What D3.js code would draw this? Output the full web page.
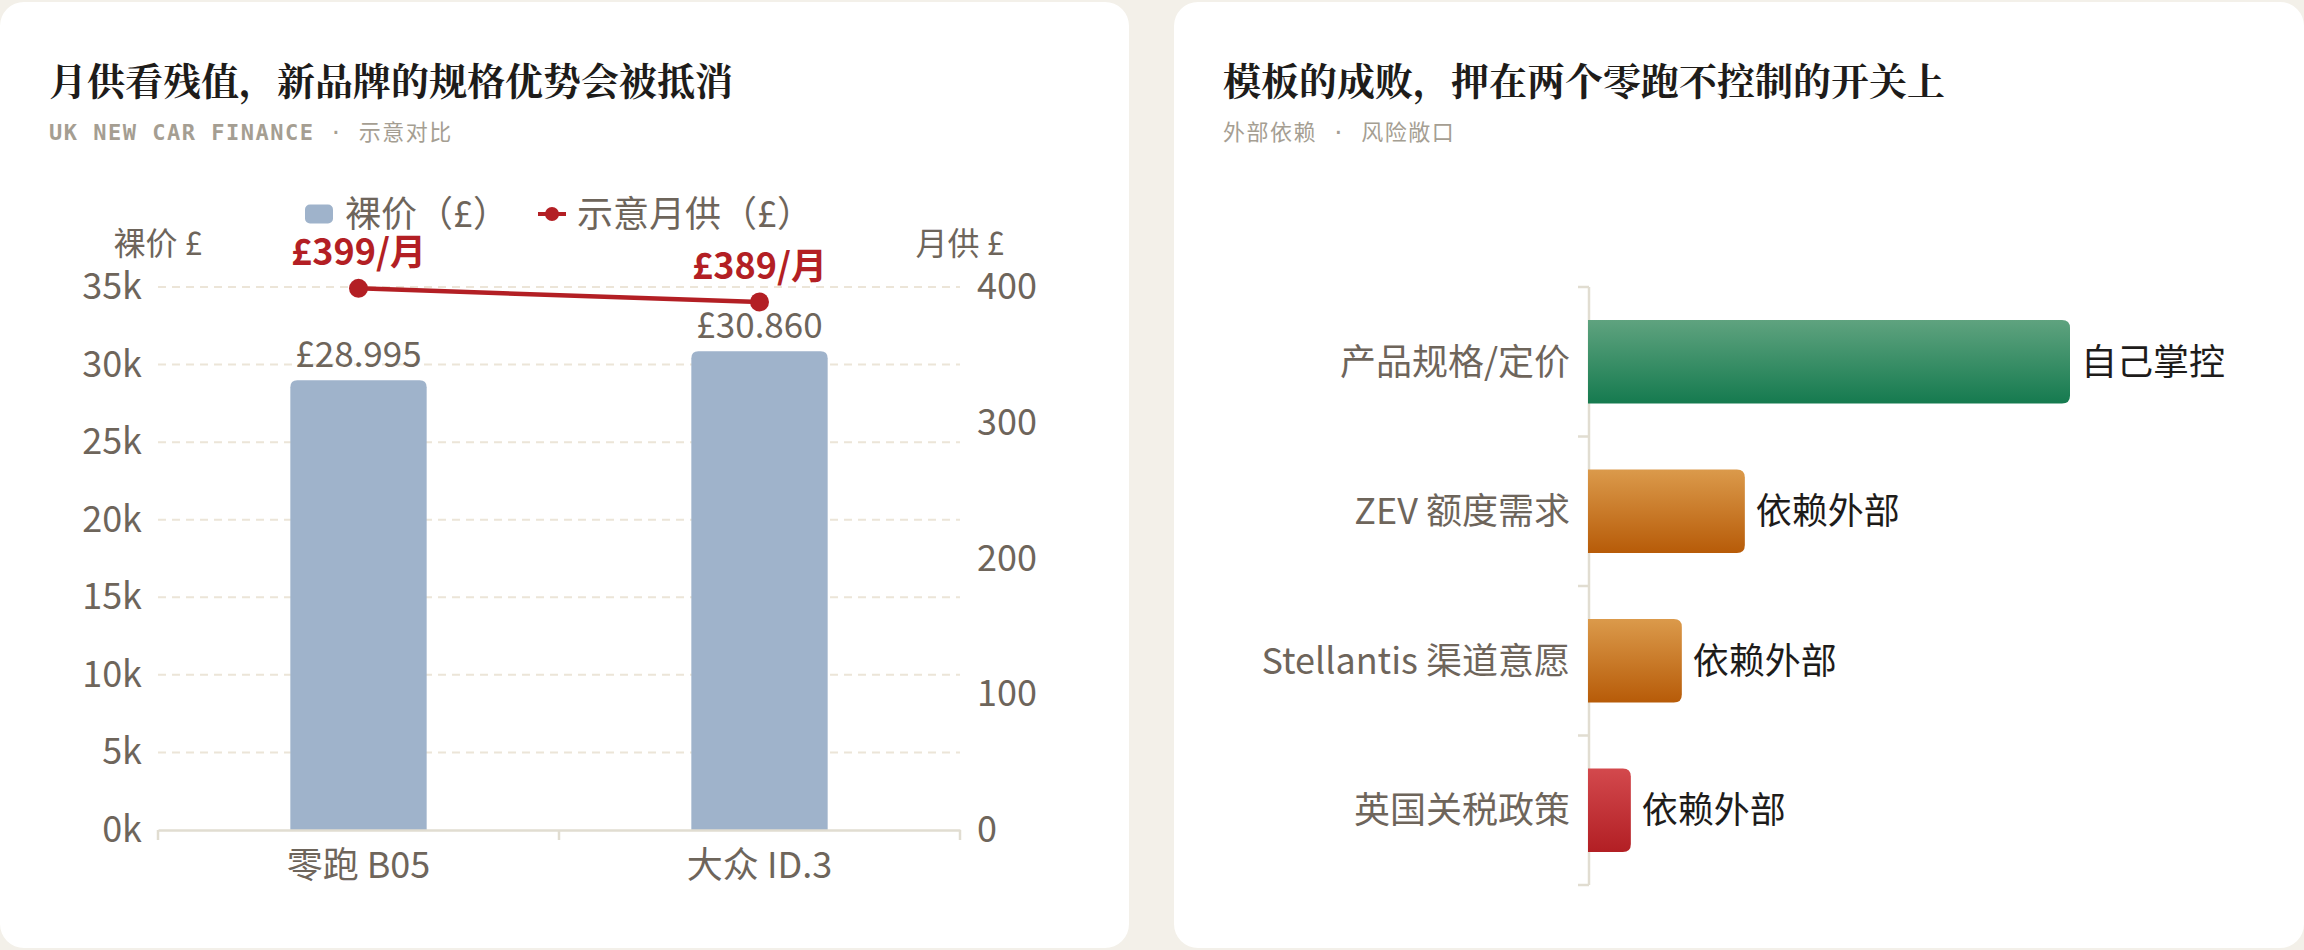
<!DOCTYPE html>
<html>
<head>
<meta charset="utf-8">
<script src="https://cdn.jsdelivr.net/npm/d3@7/dist/d3.min.js"></script>
<style>
  html, body { margin: 0; padding: 0; background: #f3f0e9; }
  svg { display: block; }
  .sans, .sans text { font-family: "Noto Sans CJK SC", "Noto Sans", sans-serif; }
  .serif { font-family: "Noto Serif CJK SC", "Noto Serif SC", "Source Han Serif SC", "Noto Serif", serif; }
  .mono { font-family: "DejaVu Sans Mono", "Liberation Mono", monospace; }
</style>
</head>
<body>
<svg id="chart" width="2304" height="950"></svg>
<script>
// ---------- data ----------
const leftTitle = "月供看残值，新品牌的规格优势会被抵消";
const leftSubMono = "UK NEW CAR FINANCE";
const leftSubCjk = "示意对比";
const models = ["零跑 B05", "大众 ID.3"];
const prices = [28995, 30860];
const monthly = [399, 389];
const priceTicks = [0, 5000, 10000, 15000, 20000, 25000, 30000, 35000];
const monthlyTicks = [0, 100, 200, 300, 400];
const legendNames = ["裸价（£）", "示意月供（£）"];
const leftAxisName = "裸价 £";
const rightAxisName = "月供 £";

const rightTitle = "模板的成败，押在两个零跑不控制的开关上";
const rightSubA = "外部依赖";
const rightSubB = "风险敞口";
const factors = ["产品规格/定价", "ZEV 额度需求", "Stellantis 渠道意愿", "英国关税政策"];
const controlScore = [100, 32.4, 19.3, 8.7];
const factorTags = ["自己掌控", "依赖外部", "依赖外部", "依赖外部"];
const factorKinds = ["own", "ext", "ext", "tax"];

// ---------- style ----------
const C = {
  bg: "#f3f0e9", card: "#ffffff", text: "#6e655b", dark: "#1e1c1a",
  sub: "#a59e92", grid: "#ece5d8", axis: "#e1ddd1",
  bar: "#9fb3cb", line: "#b31f24"
};
const grads = {
  own: ["#5fa37f", "#157a4f"],
  ext: ["#db9a4b", "#b75b08"],
  tax: ["#d3494d", "#b21f24"]
};

const svg = d3.select("#chart");
svg.append("rect").attr("width", 2304).attr("height", 950).attr("fill", C.bg);

const defs = svg.append("defs");
Object.entries(grads).forEach(([k, [c0, c1]]) => {
  const g = defs.append("linearGradient").attr("id", "g-" + k)
    .attr("x1", 0).attr("y1", 0).attr("x2", 0).attr("y2", 1);
  g.append("stop").attr("offset", "0%").attr("stop-color", c0);
  g.append("stop").attr("offset", "100%").attr("stop-color", c1);
});

// cards
const cards = [{x: 0, w: 1129}, {x: 1174, w: 1130}];
cards.forEach(c => svg.append("rect").attr("x", c.x).attr("y", 2).attr("width", c.w)
  .attr("height", 946).attr("rx", 24).attr("fill", C.card));

function header(x, title, subA, subB, monoA) {
  svg.append("text").attr("class", "serif").attr("x", x).attr("y", 95)
    .attr("font-size", 38).attr("font-weight", 700).attr("fill", C.dark).text(title);
  const t = svg.append("text").attr("x", x).attr("y", 140).attr("font-size", 22)
    .attr("fill", C.sub).attr("letter-spacing", 1.5);
  t.append("tspan").attr("class", monoA ? "mono" : "sans")
    .attr("font-weight", monoA ? 700 : 400).text(subA);
  t.append("tspan").attr("class", "mono").text(" · ");
  t.append("tspan").attr("class", "sans").text(subB);
}
header(49, leftTitle, leftSubMono, leftSubCjk, true);
header(1223, rightTitle, rightSubA, rightSubB, false);

// ---------- left chart ----------
const L = {x0: 158, x1: 960, y0: 830, y1: 287};
const x = d3.scaleBand().domain(models).range([L.x0, L.x1]);
const yP = d3.scaleLinear().domain([0, 35000]).range([L.y0, L.y1]);
const yM = d3.scaleLinear().domain([0, 400]).range([L.y0, L.y1]);
const gbp = d3.formatLocale({decimal: ",", thousands: ".", grouping: [3], currency: ["£", ""]}).format("$,");

const left = svg.append("g").attr("class", "sans");

function styleAxis(g) {
  g.attr("font-family", null).attr("font-size", null);
  g.selectAll("text").attr("font-size", 36).attr("fill", C.text);
}

// grid
left.append("g").selectAll("line").data(priceTicks.filter(d => d > 0)).join("line")
  .attr("x1", L.x0).attr("x2", L.x1).attr("y1", d => yP(d)).attr("y2", d => yP(d))
  .attr("stroke", C.grid).attr("stroke-width", 2).attr("stroke-dasharray", "8,6");

// left axis
const axL = left.append("g").attr("transform", `translate(${L.x0},0)`)
  .call(d3.axisLeft(yP).tickValues(priceTicks).tickSize(0).tickPadding(16).tickFormat(d => (d / 1000) + "k"));
axL.select(".domain").remove();
styleAxis(axL);

// right axis
const axR = left.append("g").attr("transform", `translate(${L.x1},0)`)
  .call(d3.axisRight(yM).tickValues(monthlyTicks).tickSize(0).tickPadding(17));
axR.select(".domain").remove();
styleAxis(axR);

// bars
const bw = x.bandwidth() * 0.34, r = 7;
left.append("g").selectAll("path").data(models).join("path")
  .attr("fill", C.bar)
  .attr("d", (d, i) => {
    const cx = x(d) + x.bandwidth() / 2, x0 = cx - bw / 2, x1 = cx + bw / 2;
    const top = yP(prices[i]), bot = yP(0);
    return `M${x0},${bot}V${top + r}Q${x0},${top} ${x0 + r},${top}H${x1 - r}Q${x1},${top} ${x1},${top + r}V${bot}Z`;
  });

// bottom axis
const axB = left.append("g").attr("transform", `translate(0,${L.y0})`)
  .call(d3.axisBottom(x).tickSize(0).tickPadding(22));
axB.select(".domain").attr("stroke", C.axis).attr("stroke-width", 2.5);
styleAxis(axB);
axB.selectAll("text").attr("dy", "0.71em");
const bounds = [x.range()[0]].concat(models.map(d => x(d) + x.bandwidth()));
axB.append("g").selectAll("line").data(bounds).join("line")
  .attr("x1", d => d).attr("x2", d => d).attr("y1", 0).attr("y2", 10)
  .attr("stroke", C.axis).attr("stroke-width", 2.5);

// bar value labels
left.append("g").selectAll("text").data(models).join("text")
  .attr("x", d => x(d) + x.bandwidth() / 2).attr("y", (d, i) => yP(prices[i]) - 13)
  .attr("text-anchor", "middle").attr("font-size", 35).attr("fill", C.text)
  .text((d, i) => gbp(prices[i]));

// line
const cxOf = d => x(d) + x.bandwidth() / 2;
left.append("path").datum(models)
  .attr("fill", "none").attr("stroke", C.line).attr("stroke-width", 4.5)
  .attr("d", d3.line().x(cxOf).y((d, i) => yM(monthly[i])));
left.append("g").selectAll("circle").data(models).join("circle")
  .attr("cx", cxOf).attr("cy", (d, i) => yM(monthly[i])).attr("r", 9.5).attr("fill", C.line);
left.append("g").selectAll("text").data(models).join("text")
  .attr("x", cxOf).attr("y", (d, i) => yM(monthly[i]) - 23)
  .attr("text-anchor", "middle").attr("font-size", 36).attr("font-weight", 700).attr("fill", C.line)
  .text((d, i) => `£${monthly[i]}/月`);

// axis names
left.append("text").attr("x", L.x0).attr("y", 255).attr("text-anchor", "middle")
  .attr("font-size", 32).attr("fill", C.text).text(leftAxisName);
left.append("text").attr("x", L.x1).attr("y", 255).attr("text-anchor", "middle")
  .attr("font-size", 32).attr("fill", C.text).text(rightAxisName);

// legend
const lg = left.append("g").attr("transform", "translate(305,214)");
lg.append("rect").attr("x", 0).attr("y", -9.5).attr("width", 28).attr("height", 19).attr("rx", 5).attr("fill", C.bar);
lg.append("text").attr("x", 40).attr("y", 0).attr("dy", "0.36em").attr("font-size", 36).attr("fill", C.text).text(legendNames[0]);
lg.append("line").attr("x1", 233).attr("x2", 261).attr("y1", 0).attr("y2", 0).attr("stroke", C.line).attr("stroke-width", 4);
lg.append("circle").attr("cx", 247).attr("cy", 0).attr("r", 7).attr("fill", C.line);
lg.append("text").attr("x", 272).attr("y", 0).attr("dy", "0.36em").attr("font-size", 36).attr("fill", C.text).text(legendNames[1]);

// ---------- right chart ----------
const R = {x0: 1589, y0: 287, y1: 885};
const yB = d3.scaleBand().domain(factors).range([R.y0, R.y1]);
const xS = d3.scaleLinear().domain([0, 100]).range([R.x0, 2070]);
const right = svg.append("g").attr("class", "sans");
const bh = yB.bandwidth() * 0.56, rr = 8;

right.append("line").attr("x1", R.x0).attr("x2", R.x0).attr("y1", R.y0).attr("y2", R.y1)
  .attr("stroke", C.axis).attr("stroke-width", 2.5);
const rb = [yB.range()[0]].concat(factors.map(d => yB(d) + yB.bandwidth()));
right.append("g").selectAll("line").data(rb).join("line")
  .attr("x1", R.x0 - 11).attr("x2", R.x0).attr("y1", d => d).attr("y2", d => d)
  .attr("stroke", C.axis).attr("stroke-width", 2.5);

right.append("g").selectAll("path").data(factors).join("path")
  .attr("fill", (d, i) => `url(#g-${factorKinds[i]})`)
  .attr("d", (d, i) => {
    const y0 = yB(d) + (yB.bandwidth() - bh) / 2, y1 = y0 + bh;
    const x0 = xS(0) - 1, x1 = xS(controlScore[i]);
    return `M${x0},${y0}H${x1 - rr}Q${x1},${y0} ${x1},${y0 + rr}V${y1 - rr}Q${x1},${y1} ${x1 - rr},${y1}H${x0}Z`;
  });

right.append("g").selectAll("text").data(factors).join("text")
  .attr("x", R.x0 - 19).attr("y", d => yB(d) + yB.bandwidth() / 2).attr("dy", "0.36em")
  .attr("text-anchor", "end").attr("font-size", 36).attr("fill", C.text).text(d => d);

right.append("g").selectAll("text").data(factors).join("text")
  .attr("x", (d, i) => xS(controlScore[i]) + 11).attr("y", d => yB(d) + yB.bandwidth() / 2).attr("dy", "0.36em")
  .attr("font-size", 36).attr("fill", C.dark).text((d, i) => factorTags[i]);
</script>
</body>
</html>
